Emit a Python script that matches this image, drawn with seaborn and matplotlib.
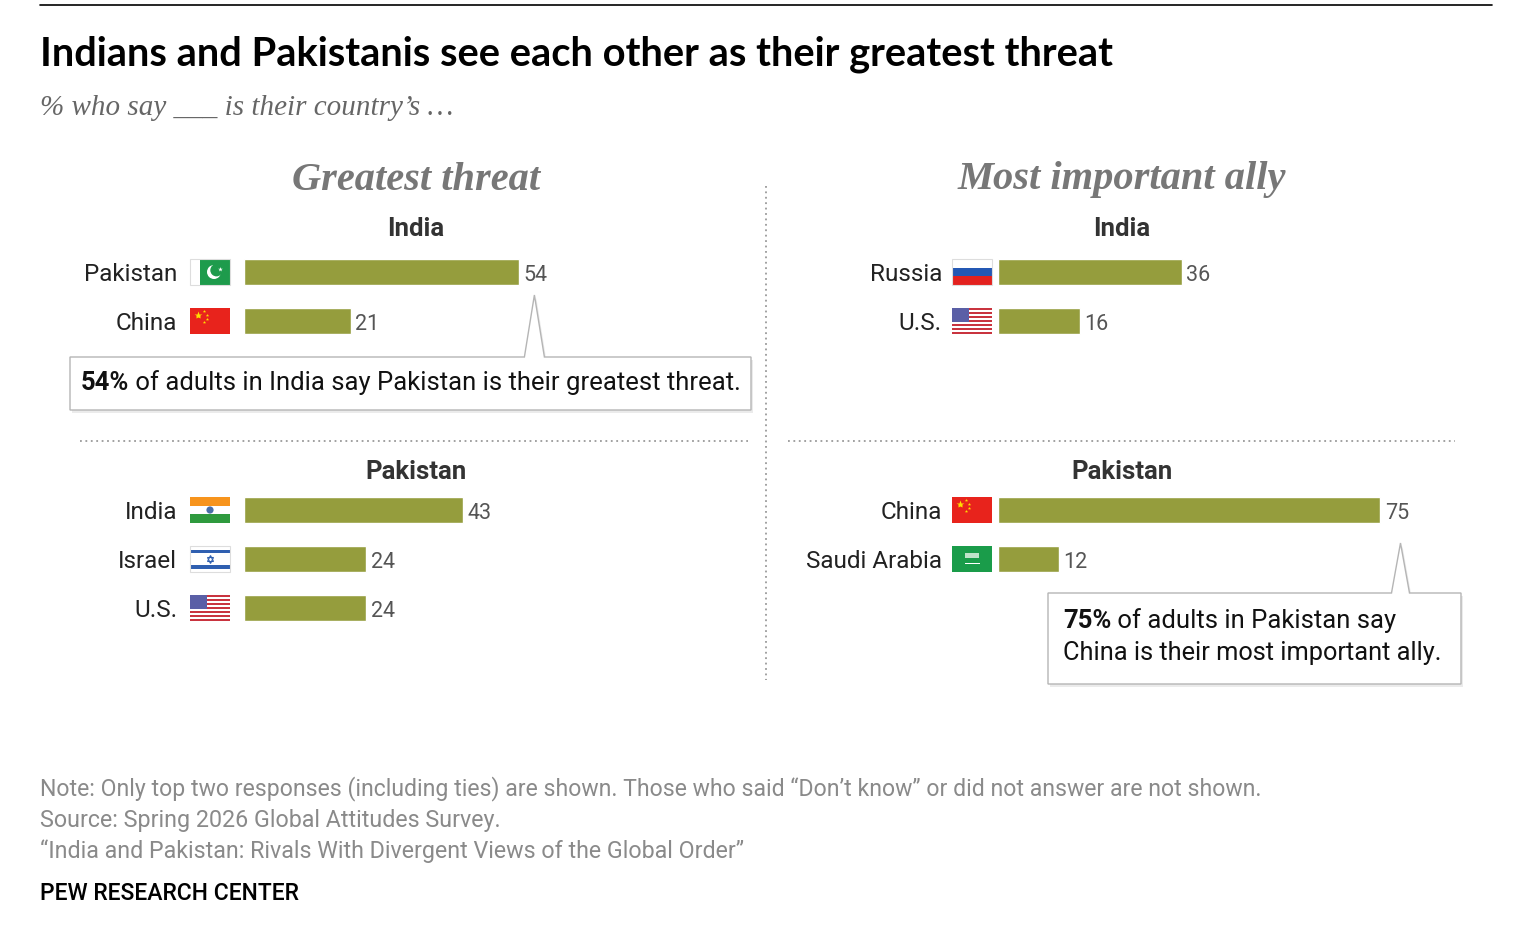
import matplotlib
matplotlib.use("Agg")
import matplotlib.pyplot as plt
import seaborn as sns
from matplotlib.patches import Rectangle, Circle, Polygon
from matplotlib.lines import Line2D
from matplotlib.transforms import IdentityTransform

# data
threat_india_cats = ["Pakistan", "China"]
threat_india_vals = [54, 21]
threat_pak_cats = ["India", "Israel", "U.S."]
threat_pak_vals = [43, 24, 24]
ally_india_cats = ["Russia", "U.S."]
ally_india_vals = [36, 16]
ally_pak_cats = ["China", "Saudi Arabia"]
ally_pak_vals = [75, 12]

W, H = 1532, 942
BAR = "#959D3D"
BODY = "Roboto"
SERIF = ["Liberation Serif", "DejaVu Serif"]

sns.set_style("white")
plt.rcParams["font.family"] = [BODY, "DejaVu Sans"]

fig = plt.figure(figsize=(W / 100, H / 100), dpi=100)
fig.patch.set_facecolor("white")
ID = IdentityTransform()


def fx(x):
    return x / W


def fy(y):
    return 1 - y / H


def fit(t, width_px):
    r = fig.canvas.get_renderer()
    bb = t.get_window_extent(r)
    t.set_fontsize(t.get_fontsize() * width_px / bb.width)
    return t


# ---- header
fig.add_artist(Line2D([fx(40), fx(1492)], [fy(5), fy(5)], color="black", lw=1.2,
                      transform=fig.transFigure))
t = fig.text(fx(40), fy(54), "Indians and Pakistanis see each other as their greatest threat",
             fontsize=26, fontweight="bold", family=["Lato", "DejaVu Sans"], va="center", color="black")
fit(t, 1076)
t = fig.text(fx(40), fy(108), "% who say ___ is their country\u2019s \u2026", fontsize=17,
             family=SERIF, style="italic", color="#666666", va="center")
fit(t, 415)

for cx, label, w in [(416, "Greatest threat", 248), (1122, "Most important ally", 329)]:
    t = fig.text(fx(cx), fy(180), label, family=SERIF, style="italic",
                 fontweight="bold", color="#777777", ha="center", va="center", fontsize=20)
    fit(t, w)

for cx, y, label in [(416, 229, "India"), (416, 472, "Pakistan"),
                     (1122, 229, "India"), (1122, 472, "Pakistan")]:
    fig.text(fx(cx), fy(y), label, fontsize=18.5, fontweight="bold", color="#333333",
             ha="center", va="center")

# ---- separators
dot = dict(color="#9a9a9a", lw=1.3, linestyle=(0, (1, 2)), transform=fig.transFigure)
fig.add_artist(Line2D([fx(766), fx(766)], [fy(186), fy(680)], **dot))
fig.add_artist(Line2D([fx(80), fx(748)], [fy(441), fy(441)], **dot))
fig.add_artist(Line2D([fx(788), fx(1455)], [fy(441), fy(441)], **dot))

# ---- bar panels
PITCH = 49
PX_PER_UNIT = 5.1


def panel(x0, y_first, cats, vals, label_gap, flag_gap):
    n = len(cats)
    top = y_first - PITCH / 2
    bot = y_first + (n - 1) * PITCH + PITCH / 2
    span = 100 * PX_PER_UNIT
    ax = fig.add_axes([fx(x0), fy(bot), span / W, (bot - top) / H])
    sns.barplot(x=vals, y=cats, orient="h", color=BAR, saturation=1, width=26 / PITCH, ax=ax)
    ax.set_xlim(0, 100)
    ax.set_ylim(n - 0.5, -0.5)
    ax.patch.set_alpha(0)
    for s in ax.spines.values():
        s.set_visible(False)
    ax.set_xticks([])
    ax.set_xlabel("")
    ax.set_ylabel("")
    ax.tick_params(axis="y", length=0, pad=label_gap * 0.72, labelsize=17.5, labelcolor="#222222")
    labels = ax.bar_label(ax.containers[0], padding=3, fontsize=15.5, color="#555555")
    for lb in labels:
        lb.xyann = (lb.xyann[0], -2.2)
    for i, c in enumerate(cats):
        xd, yd = ax.transData.transform((0, i))
        draw_flag(c, xd - flag_gap - 40, yd)
    return ax


def rect(x, y, w, h, color, **kw):
    fig.add_artist(Rectangle((x, y), w, h, facecolor=color, edgecolor="none", transform=ID, **kw))


def star(x, y, ms, color):
    fig.add_artist(Line2D([x], [y], marker="*", ms=ms, color=color, mec="none", transform=ID))


def draw_flag(name, x0, yc):
    w, h = 40, 26
    b = yc - h / 2
    if name == "Pakistan":
        rect(x0, b, 10, h, "white")
        rect(x0 + 10, b, 30, h, "#1E9B4C")
        fig.add_artist(Circle((x0 + 24, yc), 7, fc="white", ec="none", transform=ID))
        fig.add_artist(Circle((x0 + 26.5, yc + 1.8), 6.2, fc="#1E9B4C", ec="none", transform=ID))
        star(x0 + 30, yc + 3, 3.5, "white")
    elif name == "China":
        rect(x0, b, w, h, "#E8231C")
        star(x0 + 8, yc + 6, 6, "#FFDE00")
        for dx, dy in [(14, 10), (16.5, 6.5), (16.5, 2.5), (14, -0.5)]:
            star(x0 + dx, yc + dy, 2.5, "#FFDE00")
    elif name == "India":
        rect(x0, b + 2 * h / 3, w, h / 3, "#F7941D")
        rect(x0, b + h / 3, w, h / 3, "white")
        rect(x0, b, w, h / 3, "#2F9A3E")
        fig.add_artist(Circle((x0 + 20, yc), 3.6, fc="#4A6FA8", ec="none", transform=ID))
    elif name == "Israel":
        rect(x0, b, w, h, "white")
        rect(x0, b + 19, w, 3.5, "#2F5FB0")
        rect(x0, b + 3.5, w, 3.5, "#2F5FB0")
        for m, dy in [("^", 0.8), ("v", -0.8)]:
            fig.add_artist(Line2D([x0 + 20], [yc + dy], marker=m, ms=4.5, mfc="none", mec="#2F5FB0",
                                  mew=0.8, transform=ID))
    elif name == "U.S.":
        for k in range(13):
            rect(x0, b + k * h / 13, w, h / 13, "#C9343F" if k % 2 == 0 else "white")
        rect(x0, b + 6 * h / 13, 17, 7 * h / 13, "#5A5FA6")
    elif name == "Russia":
        rect(x0, b + 2 * h / 3, w, h / 3, "white")
        rect(x0, b + h / 3, w, h / 3, "#2458B4")
        rect(x0, b, w, h / 3, "#E3211E")
    elif name == "Saudi Arabia":
        rect(x0, b, w, h, "#1A9C4A")
        rect(x0 + 13, yc + 1, 14, 5, "#BFE3C9")
        rect(x0 + 13, yc - 5, 15, 1.4, "white")
    if name in ("Pakistan", "Israel", "Russia"):
        fig.add_artist(Rectangle((x0, b), w, h, fc="none", ec="#dddddd", lw=0.8, transform=ID))


ax_ti = panel(244, 272, threat_india_cats, threat_india_vals, 67, 14)
ax_tp = panel(244, 510, threat_pak_cats, threat_pak_vals, 67, 14)
ax_ai = panel(998, 272, ally_india_cats, ally_india_vals, 56, 6)
ax_ap = panel(998, 510, ally_pak_cats, ally_pak_vals, 56, 6)


# ---- callouts
def callout(box, tip, half_base):
    x0, y0, x1, y1 = box  # image px, y0 top
    tx, ty = tip  # display coords
    disp = [(x0, H - y0), (tx - half_base, H - y0), (tx, ty), (tx + half_base, H - y0),
            (x1, H - y0), (x1, H - y1), (x0, H - y1)]
    shadow = [(x + 2, y - 3) for x, y in disp]
    fig.add_artist(Polygon(shadow, closed=True, fc="#000000", alpha=0.08, ec="none", transform=ID))
    fig.add_artist(Polygon(disp, closed=True, fc="white", ec="#b5b5b5", lw=1.0, transform=ID))


bx, by = ax_ti.transData.transform((threat_india_vals[0], 0))
callout((70, 357, 751, 410), (bx + 15, by - 23), 10)
bx, by = ax_ap.transData.transform((ally_pak_vals[0], 0))
callout((1048, 593, 1461, 684), (bx + 20, by - 33), 9)


def rich_line(x, y, parts, size, target=None):
    r = fig.canvas.get_renderer()
    texts = []
    for s, wgt in parts:
        texts.append(fig.text(fx(x), fy(y), s, fontsize=size, fontweight=wgt, color="#111111",
                              va="center"))
    if target is not None:
        tot = sum(t.get_window_extent(r).width for t in texts)
        for t in texts:
            t.set_fontsize(size * target / tot)
    cur = x
    for t in texts:
        t.set_x(fx(cur))
        cur += t.get_window_extent(r).width


rich_line(81, 383, [("54%", "bold"), (" of adults in India say Pakistan is their greatest threat.", "normal")], 16, 657)
rich_line(1063, 621, [("75%", "bold"), (" of adults in Pakistan say", "normal")], 16, 332)
rich_line(1063, 653, [("China is their most important ally.", "normal")], 16, 379)

# ---- footer
foot = [(789, "Note: Only top two responses (including ties) are shown. Those who said \u201cDon\u2019t know\u201d or did not answer are not shown.", 1225),
        (820, "Source: Spring 2026 Global Attitudes Survey.", 463),
        (851, "\u201cIndia and Pakistan: Rivals With Divergent Views of the Global Order\u201d", 708)]
for y, s, w in foot:
    t = fig.text(fx(40), fy(y), s, fontsize=14, color="#8a8a8a", va="center")
    fit(t, w)
t = fig.text(fx(40), fy(894), "PEW RESEARCH CENTER", fontsize=15, color="black", va="center",
             fontweight="medium")
fit(t, 260)

fig.savefig("out.png", dpi=100, facecolor="white")
